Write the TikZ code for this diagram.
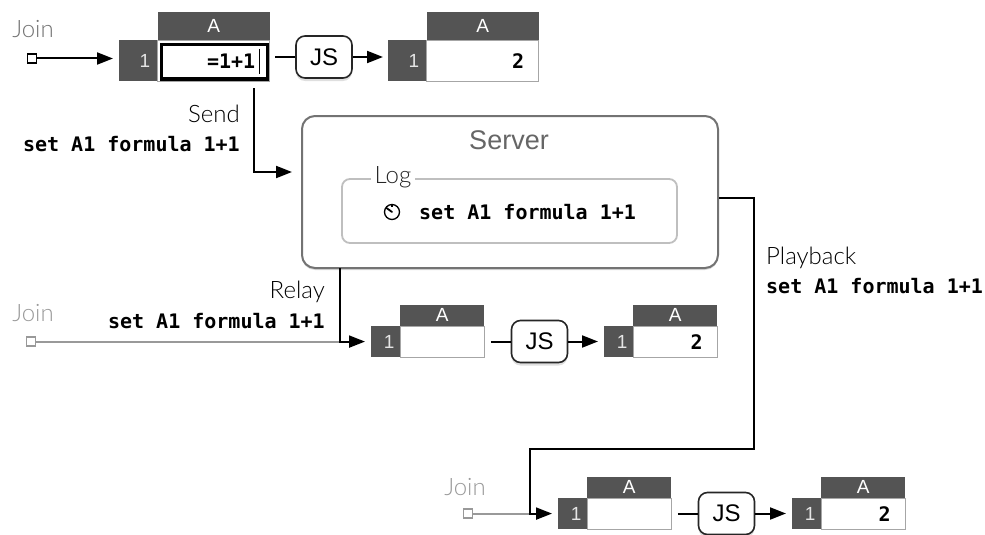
\documentclass[tikz,border=0pt]{standalone}
\usepackage{fontspec}
\setmainfont{Liberation Sans}
\newfontfamily\thinfont{Lato Light}
\newfontfamily\codefont{DejaVu Sans Mono}
\usetikzlibrary{arrows.meta,shadows}

\tikzset{
  rowhd/.style={fill=black!67, text=black!10, inner sep=0, anchor=north west, font=\fontsize{19}{19}\selectfont},
  colhd/.style={fill=black!67, text=white, inner sep=0, anchor=south west, font=\fontsize{19}{19}\selectfont},
  cellbox/.style={draw=black!35, fill=white, line width=1pt, inner sep=0, anchor=north west},
  cellval/.style={anchor=east, inner sep=0, font=\fontsize{20}{20}\codefont\bfseries},
  jsbox/.style={draw=black!85, fill=white, line width=1.6pt, rounded corners=9pt, minimum width=56, minimum height=42,
    font=\fontsize{24}{24}\selectfont, drop shadow={opacity=0.25, shadow xshift=0pt, shadow yshift=-3pt}},
  conn/.style={line width=2pt, color=black},
  arr/.style={conn, -{Triangle[length=16pt, width=12pt]}},
  grayconn/.style={line width=2pt, color=black!40},
  joinsq/.style={draw, fill=white, line width=1.8pt, minimum size=9, inner sep=0},
  thinlbl/.style={font=\fontsize{24}{24}\thinfont, inner sep=0},
  codelbl/.style={font=\fontsize{20}{20}\codefont\bfseries, inner sep=0}
}

% one spreadsheet: name, x, y (top left of row header), scale, value
\newcommand\sheet[5]{%
  \node[rowhd, minimum width=38*#4, minimum height=41*#4, text width=24*#4, align=right] (#1-row) at (#2,#3) {1};
  \node[cellbox, minimum width=112*#4, minimum height=41*#4] (#1-cell) at (#1-row.north east) {};
  \node[colhd, minimum width=112*#4, minimum height=28*#4] (#1-col) at (#1-cell.north west) {A};
  \node[cellval] (#1-val) at ([xshift=-15]#1-cell.east) {#5};
}

\begin{document}
\begin{tikzpicture}[x=1pt, y=-1pt]
		%%%%% START %%%%%
		\useasboundingbox[fill=white] (0,0) rectangle (985,535);
		
		% top client
		\sheet{s1}{119}{40}{1}{=1+1}
		\sheet{s2}{388}{40}{1}{2}
		\draw[line width=3pt] ([shift={(4,5)}]s1-cell.north west) rectangle ([shift={(-3,-3)}]s1-cell.south east);
		\draw[line width=1.2pt] ([shift={(-11,9)}]s1-cell.north east) -- ([shift={(-11,-8)}]s1-cell.south east);
		\node[jsbox] (js1) at (324,57) {JS};
		\draw[conn, shorten <=5pt] (js1.west -| s1-cell.east) -- (js1.west);
		\draw[arr, shorten >=5pt] (js1.east) -- (js1.east -| s2-row.west);
		
		\node[thinlbl, text=black!55] (join1) at (33,29) {Join};
		\node[joinsq] (join1sq) at (32,58.5) {};
		\draw[arr, shorten >=6pt] (join1sq) -- (join1sq -| s1-row.west);
		
		% server
		\node[draw=black!55, fill=white, line width=2pt, rounded corners=13pt, minimum width=416, minimum height=152,
		  drop shadow={opacity=0.3, shadow xshift=0pt, shadow yshift=-2pt}] (server) at (510,192) {};
		\node[font=\fontsize{27}{27}\selectfont, text=black!60] (srvtitle) at (509,140) {Server};
		\node[draw=black!25, line width=1.8pt, rounded corners=8pt, minimum width=335, minimum height=64] (logbox) at (509.5,211) {};
		\node[thinlbl, fill=white, inner xsep=4pt, text=black!85] (logtitle) at (393,177) {Log};
		\draw[line width=1.3pt] (392,212) circle (7.5);
		\draw[line width=1.8pt, line cap=round] (392,212) -- (386.5,208);
		\draw[line width=1.2pt] (392,204.5) -- (392,207);
		\node[codelbl, anchor=west] (logentry) at (419,212) {set A1 formula 1+1};
		
		% send
		\coordinate (sendtop) at (254,88);
		\draw[arr, shorten >=9pt] (sendtop) |- (server.west |- 0,172);
		\node[thinlbl, anchor=east] (sendlbl) at (240,114) {Send};
		\node[codelbl, anchor=east] (sendcmd) at (240,144) {set A1 formula 1+1};
		
		% relay
		\sheet{s3}{371}{326}{0.75}{}
		\sheet{s4}{604}{326}{0.75}{2}
		\node[jsbox] (js2) at (539.5,341.5) {JS};
		\draw[conn, shorten <=6pt] (js2.west -| s3-cell.east) -- (js2.west);
		\draw[arr, shorten >=6pt] (js2.east) -- (js2.east -| s4-row.west);
		
		\node[thinlbl, text=black!40] (join2) at (33,313) {Join};
		\node[joinsq, draw=black!40] (join2sq) at (31,341.5) {};
		\coordinate (relaytop) at (340,268);
		\draw[grayconn] (join2sq) -- (join2sq -| relaytop);
		\draw[arr, shorten >=6pt] (relaytop) |- (s3-row.west);
		\node[thinlbl, anchor=east] (relaylbl) at (325,292) {Relay};
		\node[codelbl, anchor=east] (relaycmd) at (325,321) {set A1 formula 1+1};
		
		% playback
		\sheet{s5}{558}{498}{0.75}{}
		\sheet{s6}{792}{498}{0.75}{2}
		\node[jsbox] (js3) at (726.5,513.5) {JS};
		\draw[conn, shorten <=6pt] (js3.west -| s5-cell.east) -- (js3.west);
		\draw[arr, shorten >=6pt] (js3.east) -- (js3.east -| s6-row.west);
		
		\node[thinlbl, text=black!40] (join3) at (465,487) {Join};
		\node[joinsq, draw=black!40] (join3sq) at (468,513.5) {};
		\coordinate (playout) at (754,198);
		\coordinate (playturn) at (530,449);
		\draw[grayconn] (join3sq) -- (join3sq -| playturn);
		\draw[arr, shorten >=6pt] (server.east |- playout) -| (playout |- playturn) -| (playturn) |- (s5-row.west);
		\node[thinlbl, anchor=west] (playlbl) at (766,258) {Playback};
		\node[codelbl, anchor=west] (playcmd) at (766,286) {set A1 formula 1+1};
		
		%%%%% END %%%%%
	\end{tikzpicture}
\end{document}
